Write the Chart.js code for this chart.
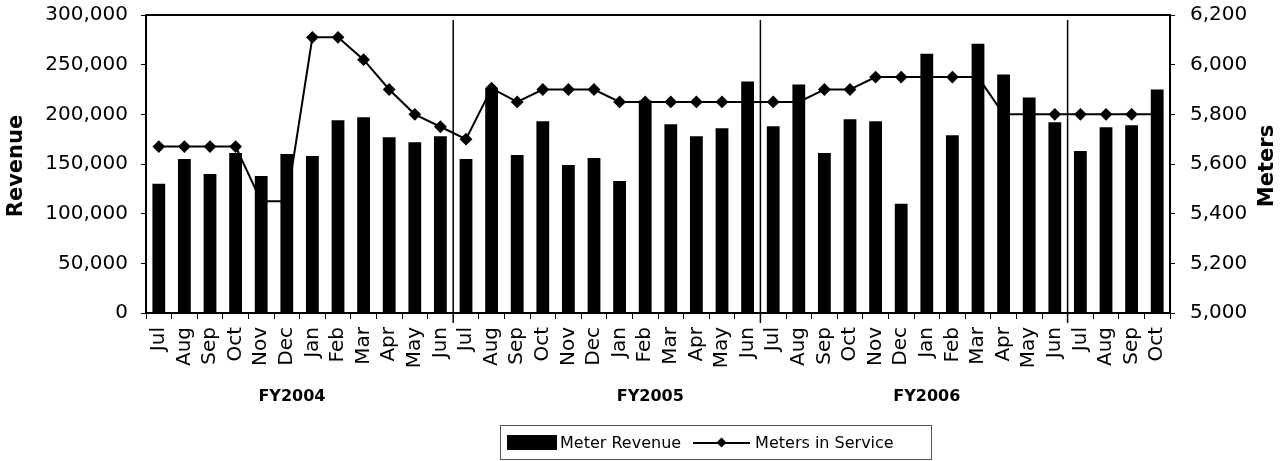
<!DOCTYPE html>
<html>
<head>
<meta charset="utf-8">
<title>Meter Revenue and Meters in Service</title>
<script src="https://cdn.jsdelivr.net/npm/chart.js@4.4.1/dist/chart.umd.min.js"></script>
<style>
    body { margin: 0; background: #fff; }
    .wrap { position: relative; width: 1285px; height: 461px; }
    .legend {
        position: absolute; left: 500px; top: 425px; width: 432px; height: 35px;
        box-sizing: border-box; border: 1px solid #555;
        display: flex; align-items: center;
        font: 16px 'DejaVu Sans', sans-serif; color: #000; white-space: nowrap;
    }
    .swatch { width: 50px; height: 15px; background: #000; margin-left: 6px; margin-right: 3px; }
    .line-sample { position: relative; width: 57px; height: 15px; margin-left: 12px; margin-right: 5px; }
    .line-sample::before { content: ''; position: absolute; left: 0; right: 0; top: 7px; height: 1.5px; background: #000; }
    .line-sample::after { content: ''; position: absolute; left: 25px; top: 4px; width: 7px; height: 7px; background: #000; transform: rotate(45deg); }
</style>
</head>
<body>
<div class="wrap">
    <canvas id="meterChart" width="1285" height="461"></canvas>
    <div class="legend">
        <span class="swatch"></span><span>Meter Revenue</span>
        <span class="line-sample"></span><span>Meters in Service</span>
    </div>
</div>
<script>
// Data (Jul 2003 - Oct 2006)
const months = [
    'Jul', 'Aug', 'Sep', 'Oct', 'Nov', 'Dec', 'Jan', 'Feb', 'Mar', 'Apr', 'May', 'Jun',
    'Jul', 'Aug', 'Sep', 'Oct', 'Nov', 'Dec', 'Jan', 'Feb', 'Mar', 'Apr', 'May', 'Jun',
    'Jul', 'Aug', 'Sep', 'Oct', 'Nov', 'Dec', 'Jan', 'Feb', 'Mar', 'Apr', 'May', 'Jun',
    'Jul', 'Aug', 'Sep', 'Oct'
];
const meterRevenue = [
    130000, 155000, 140000, 161000, 138000, 160000, 158000, 194000, 197000, 177000, 172000, 178000,
    155000, 226000, 159000, 193000, 149000, 156000, 133000, 214000, 190000, 178000, 186000, 233000,
    188000, 230000, 161000, 195000, 193000, 110000, 261000, 179000, 271000, 240000, 217000, 192000,
    163000, 187000, 189000, 225000
];
const metersInService = [
    5670, 5670, 5670, 5670, 5450, 5450, 6110, 6110, 6020, 5900, 5800, 5750,
    5700, 5905, 5850, 5900, 5900, 5900, 5850, 5850, 5850, 5850, 5850, 5850,
    5850, 5850, 5900, 5900, 5950, 5950, 5950, 5950, 5950, 5800, 5800, 5800,
    5800, 5800, 5800, 5800
];
const fiscalYears = ['FY2004', 'FY2005', 'FY2006'];
const fiscalLabelAt = [5.2, 19.2, 30.0];   // category position of each FY caption
const yearBreaks = [11.5, 23.5, 35.5];      // between Jun and Jul
const revenueTicks = [0, 300000, 50000];    // min, max, step
const meterTicks = [5000, 6200, 200];

const FONT = 'DejaVu Sans';

// border, fiscal-year separators, FY captions and axis titles
const decorations = {
    id: 'decorations',
    afterDatasetsDraw(chart) {
        const { ctx, chartArea: a, scales: { x } } = chart;
        ctx.save();
        ctx.strokeStyle = '#000';
        ctx.lineWidth = 2;
        ctx.strokeRect(a.left, a.top, a.right - a.left, a.bottom - a.top);

        ctx.lineWidth = 1.5;
        yearBreaks.forEach(v => {
            const px = x.getPixelForValue(v);
            ctx.beginPath();
            ctx.moveTo(px, a.top + 5);
            ctx.lineTo(px, a.bottom + 10);
            ctx.stroke();
        });

        ctx.fillStyle = '#000';
        ctx.textAlign = 'center';
        ctx.textBaseline = 'middle';
        ctx.font = `bold 16px "${FONT}"`;
        fiscalYears.forEach((t, i) => {
            ctx.fillText(t, x.getPixelForValue(fiscalLabelAt[i]), a.bottom + 84);
        });

        ctx.font = `bold 21px "${FONT}"`;
        const mid = (a.top + a.bottom) / 2;
        [['Revenue', 17], ['Meters', 1268]].forEach(([t, px]) => {
            ctx.save();
            ctx.translate(px, mid + 2);
            ctx.rotate(-Math.PI / 2);
            ctx.fillText(t, 0, 0);
            ctx.restore();
        });
        ctx.restore();
    }
};

const tickFont = { family: FONT, size: 20 };

// fixed axis sizes so the plot area sits where it does in the original
function fitVertical(width) {
    return s => {
        s.width = width;
        s.paddingTop = 0;
        s.paddingBottom = 0;
    };
}

new Chart(document.getElementById('meterChart').getContext('2d'), {
    data: {
        labels: months,
        datasets: [{
            type: 'bar',
            label: 'Meter Revenue',
            data: meterRevenue,
            backgroundColor: '#000',
            barPercentage: 0.5,
            categoryPercentage: 1.0,
            yAxisID: 'y',
            order: 0
        }, {
            type: 'line',
            label: 'Meters in Service',
            data: metersInService,
            borderColor: '#000',
            backgroundColor: '#000',
            borderWidth: 2,
            pointStyle: 'rectRot',
            pointRadius: 5,
            pointBackgroundColor: '#000',
            tension: 0,
            yAxisID: 'y1',
            order: 1
        }]
    },
    options: {
        responsive: false,
        animation: false,
        devicePixelRatio: 1,
        layout: { padding: { top: 15, left: 0, right: 0, bottom: 0 } },
        plugins: {
            legend: { display: false },
            tooltip: { enabled: false }
        },
        scales: {
            x: {
                offset: true,
                grid: { display: true, offset: true, drawOnChartArea: false, tickLength: 6, color: '#000' },
                border: { display: true, color: '#000', width: 2 },
                ticks: {
                    autoSkip: false, maxRotation: 90, minRotation: 90, padding: 8,
                    color: '#000', font: tickFont
                },
                afterFit(s) { s.height = 148; s.paddingLeft = 0; s.paddingRight = 0; }
            },
            y: {
                position: 'left',
                min: revenueTicks[0], max: revenueTicks[1],
                grid: { drawOnChartArea: false, tickLength: 5, color: '#000' },
                border: { display: true, color: '#000', width: 2 },
                ticks: {
                    stepSize: revenueTicks[2], padding: 13, color: '#000', font: tickFont,
                    callback: v => v.toLocaleString('en-US')
                },
                afterFit: fitVertical(146)
            },
            y1: {
                position: 'right',
                min: meterTicks[0], max: meterTicks[1],
                grid: { drawOnChartArea: false, tickLength: 5, color: '#000' },
                border: { display: true, color: '#000', width: 2 },
                ticks: {
                    stepSize: meterTicks[2], padding: 15, color: '#000', font: tickFont,
                    callback: v => v.toLocaleString('en-US')
                },
                afterFit: fitVertical(115)
            }
        }
    },
    plugins: [decorations]
});
</script>
</body>
</html>
